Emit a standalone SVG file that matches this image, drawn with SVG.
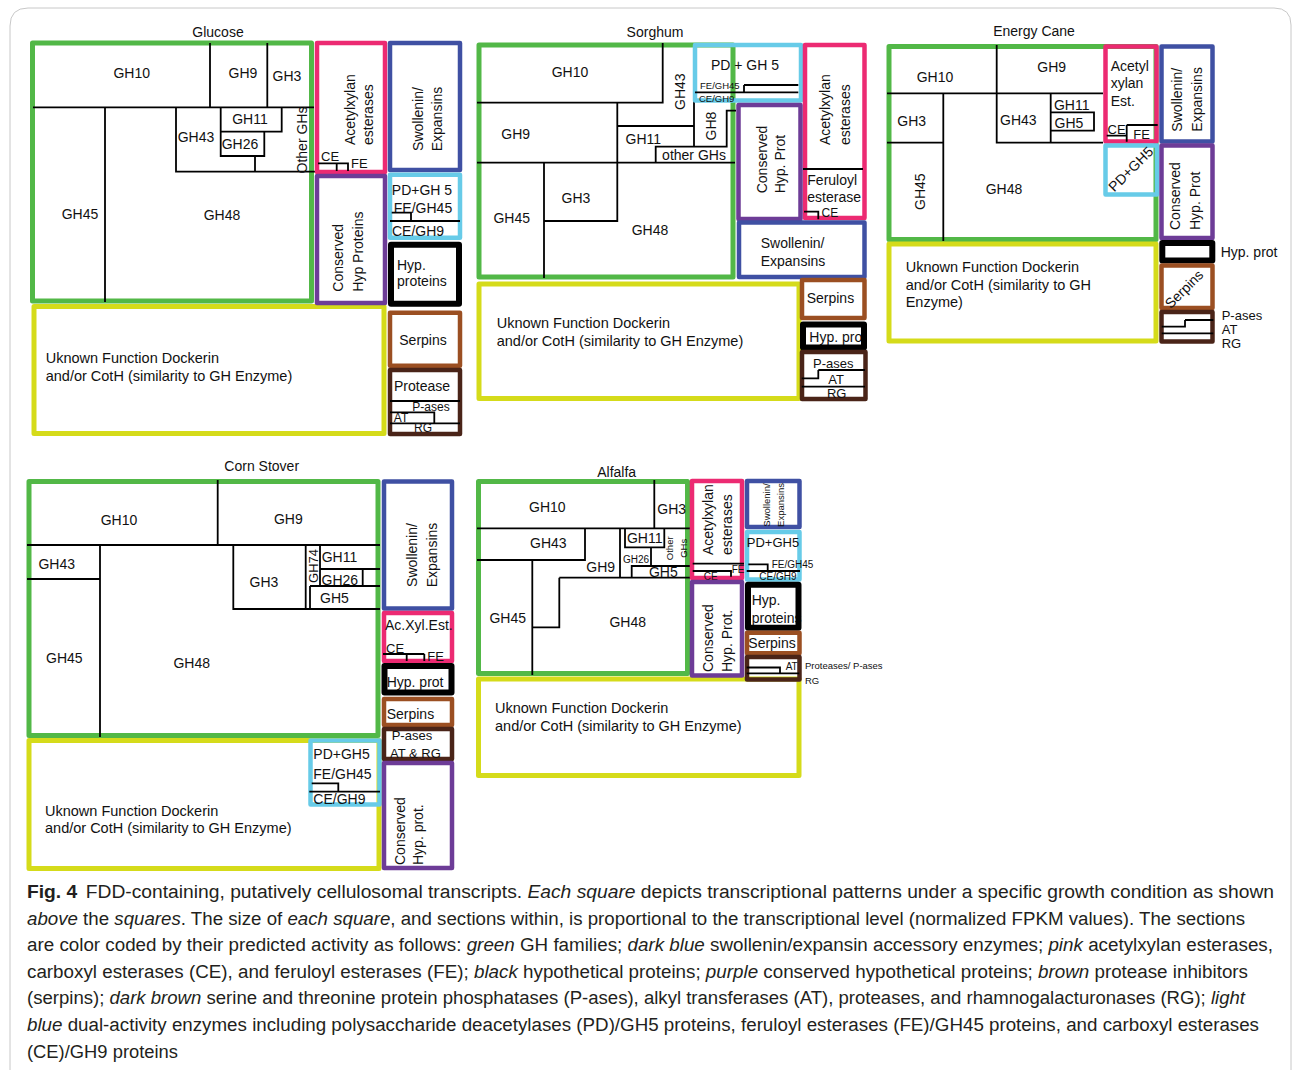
<svg xmlns="http://www.w3.org/2000/svg" width="1293" height="1070" viewBox="0 0 1293 1070">
<style>
rect{fill:none;stroke-linejoin:round}
.gr{stroke:#52b847;stroke-width:5}
.pk{stroke:#ec2a72;stroke-width:4.5}
.db{stroke:#3f50a3;stroke-width:4.5}
.lb{stroke:#67cbe8;stroke-width:4.5}
.pu{stroke:#6d3c97;stroke-width:4.5}
.bk{stroke:#000;stroke-width:6}
.br{stroke:#9b4f22;stroke-width:4.5}
.dbr{stroke:#4a2418;stroke-width:4.5}
.ye{stroke:#d5db1a;stroke-width:5}
.ln{fill:none;stroke:#000;stroke-width:1.8}
text{font-family:"Liberation Sans",Arial,sans-serif;font-size:14px;fill:#111}
.m{text-anchor:middle}
.s13{font-size:13px}.s12{font-size:12px}.s10{font-size:10px}.s9{font-size:9.5px}
.yt{font-size:14.5px}
.cap{font-size:18px;fill:#231f20}
.it{font-style:italic}
</style>
<path d="M10 1070 V26 Q10 8 28 8 H1274 Q1291 8 1291 25 V1070" fill="none" stroke="#c8c8c8" stroke-width="1"/>

<!-- ================= GLUCOSE ================= -->
<g id="panel-glucose">
<text class="m" x="218" y="37">Glucose</text>
<g id="glucose-gh">
<rect class="gr" x="32.5" y="43" width="279" height="258"/>
<path class="ln" d="M33 107.3H314M210 43V107.3M267.3 43V107.3M105 107.3V302M176 107.3V171.7H317M220.7 107.3V156H264.3V131.7M220.7 131.7H281.7V107.3M255 156V171.7"/>
<text class="m" x="131.7" y="78">GH10</text>
<text class="m" x="243" y="78">GH9</text>
<text class="m" x="287" y="81">GH3</text>
<text class="m" x="250" y="124">GH11</text>
<text class="m" x="196" y="141.7">GH43</text>
<text class="m" x="240" y="149">GH26</text>
<text class="m" transform="translate(306.7,140) rotate(-90)">Other GHs</text>
<text class="m" x="80" y="219">GH45</text>
<text class="m" x="222" y="220">GH48</text>
</g>
<g id="glucose-unknown">
<rect class="ye" x="34" y="306.5" width="350" height="127"/>
<text class="yt" x="45.7" y="363">Uknown Function Dockerin</text>
<text class="yt" x="45.7" y="381">and/or CotH (similarity to GH Enzyme)</text>
</g>
<g id="glucose-acetylxylan">
<rect class="pk" x="317" y="43" width="68" height="129"/>
<text transform="translate(355,145) rotate(-90)">Acetylxylan</text>
<text transform="translate(373,145) rotate(-90)">esterases</text>
<path class="ln" d="M318 163.3H348V171M336.7 163.3V171"/>
<text class="s13" x="321" y="161">CE</text>
<text class="s13" x="351" y="168">FE</text>
</g>
<g id="glucose-conserved">
<rect class="pu" x="317" y="176" width="68" height="127"/>
<text transform="translate(343.3,291.7) rotate(-90)">Conserved</text>
<text transform="translate(363.3,291.7) rotate(-90)">Hyp Proteins</text>
</g>
<g id="glucose-swollenin">
<rect class="db" x="390" y="43" width="70" height="127"/>
<text class="m" transform="translate(423.3,119) rotate(-90)">Swollenin/</text>
<text class="m" transform="translate(441.7,119) rotate(-90)">Expansins</text>
</g>
<g id="glucose-dual">
<rect class="lb" x="390" y="174.7" width="70" height="63"/>
<text class="m" x="422" y="195">PD+GH 5</text>
<text class="m" x="423" y="212.7">FE/GH45</text>
<path class="ln" d="M390 221H460M391.7 212.7H411V221"/>
<text class="m" x="418" y="235.7">CE/GH9</text>
</g>
<g id="glucose-hyp">
<rect class="bk" x="391" y="244.7" width="68" height="59"/>
<text x="397" y="270">Hyp.</text>
<text x="397" y="286">proteins</text>
</g>
<g id="glucose-serpins">
<rect class="br" x="390" y="312.7" width="70" height="53"/>
<text class="m" x="423" y="345">Serpins</text>
</g>
<g id="glucose-protease">
<rect class="dbr" x="390" y="370" width="70" height="64"/>
<text class="m" x="422" y="391">Protease</text>
<path class="ln" d="M390 401H460M390 412.3H434.3V423.3M390 423.3H460"/>
<text class="m s12" x="431" y="411">P-ases</text>
<text class="m s12" x="401" y="422">AT</text>
<text class="m s12" x="423" y="432">RG</text>
</g>
</g>

<!-- ================= SORGHUM ================= -->
<g id="panel-sorghum">
<text class="m" x="655" y="37">Sorghum</text>
<g id="sorghum-gh">
<rect class="gr" x="479" y="45" width="254" height="232"/>
<path class="ln" d="M477 102.7H662.7V43M617.3 102.7V221H544M477 162.7H735M617.3 126H694M694 100V146.7M655.7 162.7V146.7H726.7V110.7H736M544 162.7V278"/>
<text class="m" x="570" y="76.7">GH10</text>
<text class="m" transform="translate(685,91.7) rotate(-90)">GH43</text>
<text class="m" x="515.7" y="139">GH9</text>
<text class="m" x="643.3" y="144.3">GH11</text>
<text class="m" transform="translate(715.7,126) rotate(-90)">GH8</text>
<text class="m" x="694" y="160">other GHs</text>
<text class="m" x="576" y="202.7">GH3</text>
<text class="m" x="511.7" y="222.7">GH45</text>
<text class="m" x="650" y="235">GH48</text>
</g>
<g id="sorghum-unknown">
<rect class="ye" x="479" y="284" width="320" height="114.5"/>
<text class="yt" x="496.7" y="327.7">Uknown Function Dockerin</text>
<text class="yt" x="496.7" y="345.7">and/or CotH (similarity to GH Enzyme)</text>
</g>
<g id="sorghum-dual">
<rect class="lb" x="695" y="45" width="106" height="55.5"/>
<text class="m" x="745" y="70">PD + GH 5</text>
<text class="s9" x="700" y="88.5">FE/GH45</text>
<path class="ln" d="M744 85H798.3M744 85V92.3M695 92.3H798.3"/>
<text class="s9" x="699" y="102">CE/GH9</text>
</g>
<g id="sorghum-acetylxylan">
<rect class="pk" x="805" y="45" width="59.5" height="173"/>
<text transform="translate(830,145) rotate(-90)">Acetylxylan</text>
<text transform="translate(850,145) rotate(-90)">esterases</text>
<path class="ln" d="M803 169H863M804 211.7H818.3V219.3"/>
<text x="807.3" y="185">Feruloyl</text>
<text x="807.3" y="202">esterase</text>
<text class="s12" x="821.5" y="216.5">CE</text>
</g>
<g id="sorghum-conserved">
<rect class="pu" x="738.5" y="105" width="62" height="114"/>
<text transform="translate(766.7,193.3) rotate(-90)">Conserved</text>
<text transform="translate(785,193.3) rotate(-90)">Hyp. Prot</text>
</g>
<g id="sorghum-swollenin">
<rect class="db" x="739" y="222.5" width="125.5" height="54.5"/>
<text x="760.7" y="247.7">Swollenin/</text>
<text x="760.7" y="265.7">Expansins</text>
</g>
<g id="sorghum-serpins">
<rect class="br" x="802" y="280" width="62.5" height="38"/>
<text x="806.7" y="302.7">Serpins</text>
</g>
<g id="sorghum-hyp">
<text x="809.3" y="341.7">Hyp. prot</text>
<rect class="bk" x="803" y="324.5" width="61" height="23"/>
</g>
<g id="sorghum-pases">
<rect class="dbr" x="802" y="352" width="63.5" height="47"/>
<path class="ln" d="M818.3 370H865M818.3 370V378.3H801.7M801.7 386.7H865"/>
<text class="m s13" x="833.3" y="367.7">P-ases</text>
<text class="m s13" x="836" y="384">AT</text>
<text class="m s13" x="836.7" y="398">RG</text>
</g>
</g>

<!-- ================= ENERGY CANE ================= -->
<g id="panel-energycane">
<text class="m" x="1034" y="35.7">Energy Cane</text>
<g id="energycane-gh">
<rect class="gr" x="889" y="46.5" width="267" height="193"/>
<path class="ln" d="M887 93.3H1103M996.7 45V142.7H1103M943.3 93.3V241M887 142.7H943.3M1050.7 93.3V142.7M1050.7 112.3H1094V130.7H1050.7"/>
<text class="m" x="935" y="81.7">GH10</text>
<text class="m" x="1051.7" y="71.7">GH9</text>
<text class="m" x="911.7" y="126">GH3</text>
<text class="m" x="1018.3" y="125">GH43</text>
<text class="m" x="1071.7" y="110">GH11</text>
<text class="m" x="1069" y="128.3">GH5</text>
<text class="m" transform="translate(925,191.7) rotate(-90)">GH45</text>
<text class="m" x="1004" y="194.3">GH48</text>
</g>
<g id="energycane-unknown">
<rect class="ye" x="889" y="244" width="267" height="97"/>
<text class="yt" x="905.7" y="272">Uknown Function Dockerin</text>
<text class="yt" x="905.7" y="289.5">and/or CotH (similarity to GH</text>
<text class="yt" x="905.7" y="307">Enzyme)</text>
</g>
<g id="energycane-acetylxylan">
<rect class="pk" x="1105.5" y="46.5" width="51" height="95"/>
<text x="1110.7" y="70.7">Acetyl</text>
<text x="1110.7" y="88.3">xylan</text>
<text x="1110.7" y="106">Est.</text>
<path class="ln" d="M1126.7 125H1157.7M1126.7 125V141.7M1106.7 135.7H1126.7"/>
<text class="s13" x="1107.5" y="134.3">CE</text>
<text class="s13" x="1133.3" y="139.3">FE</text>
</g>
<g id="energycane-swollenin">
<rect class="db" x="1161.5" y="46.5" width="51" height="95"/>
<text transform="translate(1181.7,131.7) rotate(-90)">Swollenin/</text>
<text transform="translate(1201.7,131.7) rotate(-90)">Expansins</text>
</g>
<g id="energycane-dual">
<rect class="lb" x="1105.5" y="145.5" width="51.5" height="49"/>
<text class="m" transform="translate(1130.7,169) rotate(-45)" y="5">PD+GH5</text>
</g>
<g id="energycane-conserved">
<rect class="pu" x="1161.5" y="145.5" width="51" height="92.5"/>
<text transform="translate(1180,230) rotate(-90)">Conserved</text>
<text transform="translate(1200,230) rotate(-90)">Hyp. Prot</text>
</g>
<g id="energycane-hyp">
<rect class="bk" x="1162.3" y="243" width="50" height="17.5"/>
<text x="1220.7" y="257.3">Hyp. prot</text>
</g>
<g id="energycane-serpins">
<rect class="br" x="1161.5" y="265.5" width="51" height="42.5"/>
<text class="m" transform="translate(1184,289) rotate(-45)" y="5">Serpins</text>
</g>
<g id="energycane-pases">
<rect class="dbr" x="1161.5" y="312" width="51" height="29.5"/>
<path class="ln" d="M1185 320H1213.3M1185 320V326.7H1161.7M1161.7 333.3H1213.3"/>
<text class="s13" x="1221.7" y="320">P-ases</text>
<text class="s13" x="1221.7" y="334">AT</text>
<text class="s13" x="1221.7" y="348.3">RG</text>
</g>
</g>

<!-- ================= CORN STOVER ================= -->
<g id="panel-cornstover">
<text class="m" x="261.7" y="471">Corn Stover</text>
<g id="cornstover-gh">
<rect class="gr" x="29" y="481.5" width="349" height="254"/>
<path class="ln" d="M27 545H380M217.7 480V545M100 545V737M27 579H100M233.3 545V609H380M305.7 545V609M320 545V586M310 586V609M310 586H380M320 569H380M362.7 569V586"/>
<text class="m" x="119" y="525">GH10</text>
<text class="m" x="288.3" y="524">GH9</text>
<text class="m" x="56.7" y="569.3">GH43</text>
<text class="m" x="264" y="586.7">GH3</text>
<text class="m s13" transform="translate(317.5,566) rotate(-90)">GH74</text>
<text x="321.7" y="561.7">GH11</text>
<text x="321.5" y="584.5">GH26</text>
<text x="320" y="603.3">GH5</text>
<text class="m" x="64.3" y="662.7">GH45</text>
<text class="m" x="191.7" y="668.3">GH48</text>
</g>
<g id="cornstover-unknown">
<rect class="ye" x="29" y="740.5" width="350" height="128"/>
<text class="yt" x="45" y="816">Uknown Function Dockerin</text>
<text class="yt" x="45" y="833.3">and/or CotH (similarity to GH Enzyme)</text>
</g>
<g id="cornstover-dual">
<rect class="lb" x="310.5" y="740.5" width="69" height="64"/>
<text x="313.3" y="759">PD+GH5</text>
<text x="313.3" y="779">FE/GH45</text>
<path class="ln" d="M309.3 791.7H380M311.7 783.3H338.3V791.7"/>
<text x="313.3" y="804">CE/GH9</text>
</g>
<g id="cornstover-swollenin">
<rect class="db" x="384" y="481.5" width="68" height="127"/>
<text class="m" transform="translate(416.7,555) rotate(-90)">Swollenin/</text>
<text class="m" transform="translate(436.7,555) rotate(-90)">Expansins</text>
</g>
<g id="cornstover-acetylxylan">
<rect class="pk" x="384" y="613" width="68" height="48"/>
<text x="385" y="630">Ac.Xyl.Est.</text>
<path class="ln" d="M383 654H424.3M406.7 654V661M424.3 654V661"/>
<text class="s13" x="386" y="652.7">CE</text>
<text class="s13" x="427.3" y="661">FE</text>
</g>
<g id="cornstover-hyp">
<rect class="bk" x="384.5" y="666" width="67" height="26.5"/>
<text x="386.7" y="687.3">Hyp. prot</text>
</g>
<g id="cornstover-serpins">
<rect class="br" x="384" y="699" width="68" height="26"/>
<text x="386.7" y="719.3">Serpins</text>
</g>
<g id="cornstover-pases">
<rect class="dbr" x="384" y="729" width="68" height="30"/>
<text class="s13" x="391.7" y="740">P-ases</text>
<text class="s13" x="390" y="757.7">AT &amp; RG</text>
</g>
<g id="cornstover-conserved">
<rect class="pu" x="384" y="763" width="68" height="105"/>
<text transform="translate(405,865) rotate(-90)">Conserved</text>
<text transform="translate(423.3,865) rotate(-90)">Hyp. prot.</text>
</g>
</g>

<!-- ================= ALFALFA ================= -->
<g id="panel-alfalfa">
<text class="m" x="616.7" y="477.3">Alfalfa</text>
<g id="alfalfa-gh">
<rect class="gr" x="478.5" y="481.5" width="209" height="192"/>
<path class="ln" d="M477 528.3H690M654.3 480V528.3M477 560H585V528.3M532.3 560V675M620 528.3V577.7M625 528.3V547.3H664.3V528.3M651 547.3V566M631.7 577.7V566H690M559.3 577.7H690M559.3 577.7V627.3H532.3"/>
<text class="m" x="547.3" y="511.7">GH10</text>
<text class="m" x="671.7" y="514">GH3</text>
<text class="m" x="548.3" y="548.3">GH43</text>
<text class="m" x="644.7" y="542.7">GH11</text>
<text class="m s10" x="636" y="562.5">GH26</text>
<text class="m" x="600.7" y="571.7">GH9</text>
<text class="m" x="663.3" y="577.3">GH5</text>
<text class="m s9" transform="translate(673,548.3) rotate(-90)">Other</text>
<text class="m s9" transform="translate(687.3,548.3) rotate(-90)">GHs</text>
<text class="m" x="507.7" y="623.3">GH45</text>
<text class="m" x="627.7" y="626.7">GH48</text>
</g>
<g id="alfalfa-unknown">
<rect class="ye" x="478.5" y="679" width="320.5" height="96.5"/>
<text class="yt" x="495" y="713.3">Uknown Function Dockerin</text>
<text class="yt" x="495" y="730.7">and/or CotH (similarity to GH Enzyme)</text>
</g>
<g id="alfalfa-acetylxylan">
<rect class="pk" x="692" y="481" width="50" height="97"/>
<text transform="translate(713.3,555) rotate(-90)">Acetylxylan</text>
<text transform="translate(732.3,555) rotate(-90)">esterases</text>
<path class="ln" d="M692.7 563.7H744M692.7 571H731V576.7"/>
<text class="s10" x="731.7" y="573">FE</text>
<text class="m s10" x="710.7" y="580">CE</text>
</g>
<g id="alfalfa-conserved">
<rect class="pu" x="692" y="582" width="50" height="93.5"/>
<text transform="translate(713.3,672) rotate(-90)">Conserved</text>
<text transform="translate(732.3,672) rotate(-90)">Hyp. Prot.</text>
</g>
<g id="alfalfa-swollenin">
<rect class="db" x="747" y="481" width="52.5" height="46"/>
<text class="m s9" transform="translate(769.5,505) rotate(-90)">Swollenin/</text>
<text class="m s9" transform="translate(783.5,505) rotate(-90)">Expansins</text>
</g>
<g id="alfalfa-dual">
<rect class="lb" x="747" y="532" width="52.5" height="47.5"/>
<text class="m s13" x="773" y="547.3">PD+GH5</text>
<path class="ln" d="M748.3 564.3H767.7V571M746.7 571H800"/>
<text class="s10" x="771.7" y="567.5">FE/GH45</text>
<text class="s10" x="759.3" y="580">CE/GH9</text>
</g>
<g id="alfalfa-hyp">
<text x="751.7" y="605">Hyp.</text>
<text x="751.7" y="622.7">proteins</text>
<rect class="bk" x="748" y="584.7" width="50.5" height="43"/>
</g>
<g id="alfalfa-serpins">
<rect class="br" x="747" y="632.7" width="52.5" height="20.5"/>
<text x="748.3" y="648.3">Serpins</text>
</g>
<g id="alfalfa-pases">
<rect class="dbr" x="747" y="657" width="52.5" height="22.5"/>
<path class="ln" d="M746.7 667.5H780V673.3M746.7 673.3H799.3"/>
<text class="m s10" x="791.7" y="670">AT</text>
<text class="s9" x="805" y="668.5">Proteases/ P-ases</text>
<text class="s9" x="805" y="684">RG</text>
</g>
</g>

<!-- connectors: none in this figure -->
<g id="connectors"/>

<!-- ================= CAPTION ================= -->
<g id="caption">
<text class="cap" x="27" y="898" textLength="1247" lengthAdjust="spacingAndGlyphs"><tspan font-weight="bold">Fig. 4</tspan><tspan dx="8">FDD-containing, putatively cellulosomal transcripts. </tspan><tspan class="it">Each square</tspan> depicts transcriptional patterns under a specific growth condition as shown</text>
<text class="cap" x="27" y="925" textLength="1218" lengthAdjust="spacingAndGlyphs"><tspan class="it">above</tspan> the <tspan class="it">squares</tspan>. The size of <tspan class="it">each square</tspan>, and sections within, is proportional to the transcriptional level (normalized FPKM values). The sections</text>
<text class="cap" x="27" y="951" textLength="1246" lengthAdjust="spacingAndGlyphs">are color coded by their predicted activity as follows: <tspan class="it">green</tspan> GH families; <tspan class="it">dark blue</tspan> swollenin/expansin accessory enzymes; <tspan class="it">pink</tspan> acetylxylan esterases,</text>
<text class="cap" x="27" y="978" textLength="1221" lengthAdjust="spacingAndGlyphs">carboxyl esterases (CE), and feruloyl esterases (FE); <tspan class="it">black</tspan> hypothetical proteins; <tspan class="it">purple</tspan> conserved hypothetical proteins; <tspan class="it">brown</tspan> protease inhibitors</text>
<text class="cap" x="27" y="1004" textLength="1218" lengthAdjust="spacingAndGlyphs">(serpins); <tspan class="it">dark brown</tspan> serine and threonine protein phosphatases (P-ases), alkyl transferases (AT), proteases, and rhamnogalacturonases (RG); <tspan class="it">light</tspan></text>
<text class="cap" x="27" y="1031" textLength="1232" lengthAdjust="spacingAndGlyphs"><tspan class="it">blue</tspan> dual-activity enzymes including polysaccharide deacetylases (PD)/GH5 proteins, feruloyl esterases (FE)/GH45 proteins, and carboxyl esterases</text>
<text class="cap" x="27" y="1058" textLength="151" lengthAdjust="spacingAndGlyphs">(CE)/GH9 proteins</text>
</g>
</svg>
